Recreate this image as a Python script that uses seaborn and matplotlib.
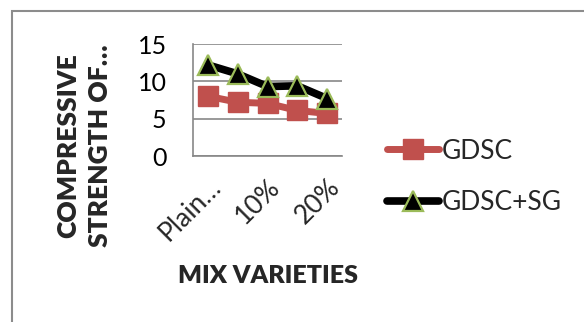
import matplotlib
matplotlib.use("Agg")
import matplotlib.pyplot as plt
import seaborn as sns
import pandas as pd
from matplotlib.patches import Rectangle
from matplotlib.ticker import FixedLocator, NullFormatter

# Mix varieties and compressive strength results
categories = ["Plain…", "5%", "10%", "15%", "20%"]
gdsc = [8.0, 7.2, 7.05, 6.1, 5.7]
gdsc_sg = [12.2, 11.0, 9.3, 9.4, 7.7]
series_names = ["GDSC", "GDSC+SG"]
shown_labels = ["Plain…", "", "10%", "", "20%"]
y_ticks = [0, 5, 10, 15]

sns.set_theme(style="white")
plt.rcParams["font.family"] = ["Lato", "DejaVu Sans"]

W, H = 584, 322
fig = plt.figure(figsize=(W / 100, H / 100), dpi=100)

def fx(px):
    return px / W

def fy(py):
    return 1 - py / H

ax = fig.add_axes([fx(193), fy(156), fx(342) - fx(193), fy(44) - fy(156)])

pos = list(range(len(categories)))
df = pd.DataFrame({"pos": pos, "GDSC": gdsc, "GDSC+SG": gdsc_sg})

red = "#C0504D"
sns.lineplot(data=df, x="pos", y="GDSC", ax=ax, color=red, lw=5,
             marker="s", markersize=14, markerfacecolor=red,
             markeredgecolor=red, markeredgewidth=1, label=series_names[0],
             legend=False)
sns.lineplot(data=df, x="pos", y="GDSC+SG", ax=ax, color="black", lw=5.5,
             marker="^", markersize=15, markerfacecolor="black",
             markeredgecolor="#9BBB59", markeredgewidth=1.6,
             label=series_names[1], legend=False)

grey = "#878787"
ax.set_xlim(-0.5, len(categories) - 0.5)
ax.set_ylim(0, 15)
ax.set_yticks(y_ticks)
ax.yaxis.grid(True, color=grey, lw=1.2)
ax.set_axisbelow(True)
for s in ["top", "right"]:
    ax.spines[s].set_visible(False)
for s in ["left", "bottom"]:
    ax.spines[s].set_color(grey)
    ax.spines[s].set_linewidth(1.2)

ax.tick_params(axis="y", which="major", length=9, width=1.2, color=grey,
               direction="out", pad=10, labelsize=18, labelcolor="black")
ax.set_xticks(pos)
ax.set_xticklabels(shown_labels, rotation=45, ha="right",
                   rotation_mode="anchor", fontsize=19)
ax.tick_params(axis="x", which="major", length=0, pad=13)
ax.xaxis.set_minor_locator(FixedLocator([p - 0.5 for p in pos] + [pos[-1] + 0.5]))
ax.xaxis.set_minor_formatter(NullFormatter())
ax.tick_params(axis="x", which="minor", length=10, width=1.2, color=grey,
               direction="out")
ax.set_xlabel("")
ax.set_ylabel("")

fig.text(fx(84), fy(146), "COMPRESSIVE\nSTRENGTH OF…", rotation=90,
         ha="center", va="center", multialignment="center",
         fontsize=19, fontweight="heavy", linespacing=1.4)
fig.text(fx(268), fy(276), "MIX VARIETIES", ha="center", va="center",
         fontsize=18, fontweight="heavy")

handles, labels = ax.get_legend_handles_labels()
fig.legend(handles, labels, loc="upper left",
           bbox_to_anchor=(fx(376), fy(128)), frameon=False,
           fontsize=19, handlelength=2.0, handletextpad=0.1,
           labelspacing=1.0, borderaxespad=0)

fig.patches.append(Rectangle((fx(12), fy(H + 5)), 2, fy(11) - fy(H + 5),
                             transform=fig.transFigure, fill=False,
                             edgecolor="#8c8c8c", lw=1.5, zorder=0))

fig.savefig("out.png", dpi=100)
